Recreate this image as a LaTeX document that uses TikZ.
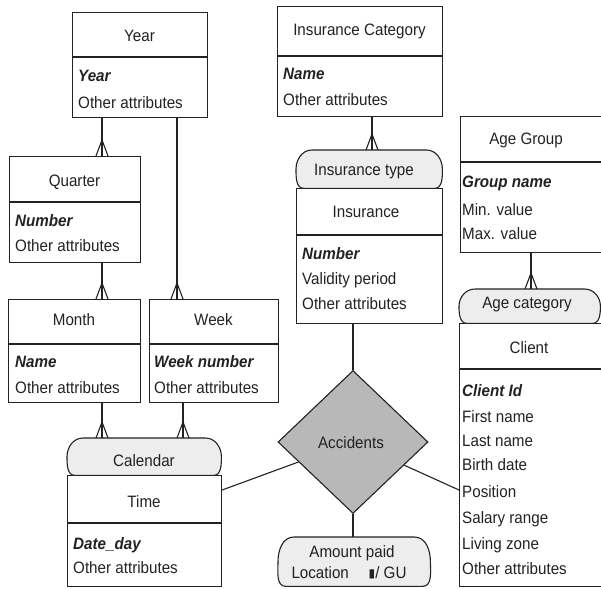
\documentclass[tikz,border=0pt]{standalone}
\usepackage{fontspec}
\setmainfont{Liberation Sans}[FakeStretch=0.92]
\usetikzlibrary{shapes.geometric}
\definecolor{ink}{HTML}{222222}
\definecolor{pillfill}{HTML}{EDEDED}
\definecolor{accfill}{HTML}{B8B8B8}
\newcommand\crowat[1]{\draw[conn] ([xshift=-6pt]#1) -- ([yshift=16pt]#1) -- ([xshift=6pt]#1);}
\newcommand\pillpath[1]{%
  \draw[pillline] ([xshift=16pt]#1.north west) -- ([xshift=-16pt]#1.north east)
    to[out=0,in=90] (#1.east) to[out=-90,in=0] ([xshift=-8pt]#1.south east)
    -- ([xshift=8pt]#1.south west) to[out=180,in=-90] (#1.west)
    to[out=90,in=180] ([xshift=16pt]#1.north west) -- cycle;}
\begin{document}
\begin{tikzpicture}[x=1pt,y=-1pt,
  every node/.style={text=ink, font=\fontsize{16.5}{19}\selectfont},
  ebox/.style={draw=ink, line width=1.1pt, anchor=north west, inner sep=0pt, rectangle},
  pillbox/.style={draw=none, anchor=north west, inner sep=0pt, rectangle},
  pillline/.style={draw=ink, line width=1.1pt, fill=pillfill},
  conn/.style={draw=ink, line width=1.1pt},
  ttl/.style={anchor=base, inner sep=0pt},
  att/.style={anchor=base west, inner sep=0pt},
  key/.style={anchor=base west, inner sep=0pt, font=\fontsize{16.5}{19}\selectfont\bfseries\itshape},
]
\useasboundingbox (0,0) rectangle (601,588);

% ---------- entity boxes ----------
\node[ebox, minimum width=135pt, minimum height=105pt] (year) at (72,12) {};
\node[ebox, minimum width=131pt, minimum height=106pt] (quarter) at (9,156) {};
\node[ebox, minimum width=132pt, minimum height=103pt] (month) at (8,299) {};
\node[ebox, minimum width=129pt, minimum height=103pt] (week) at (149,299) {};
\node[ebox, minimum width=154pt, minimum height=111pt] (time) at (67,475) {};
\node[ebox, minimum width=165pt, minimum height=110pt] (icat) at (277,6) {};
\node[ebox, minimum width=146pt, minimum height=135pt] (ins) at (296,188) {};
\node[ebox, minimum width=150pt, minimum height=136pt] (agegrp) at (460,116) {};
\node[ebox, minimum width=150pt, minimum height=263pt] (client) at (459,323) {};

% dividers
\draw[conn] ([yshift=-45pt]year.north west) -- ([yshift=-45pt]year.north east);
\draw[conn] ([yshift=-46pt]quarter.north west) -- ([yshift=-46pt]quarter.north east);
\draw[conn] ([yshift=-45pt]month.north west) -- ([yshift=-45pt]month.north east);
\draw[conn] ([yshift=-45pt]week.north west) -- ([yshift=-45pt]week.north east);
\draw[conn] ([yshift=-48pt]time.north west) -- ([yshift=-48pt]time.north east);
\draw[conn] ([yshift=-50pt]icat.north west) -- ([yshift=-50pt]icat.north east);
\draw[conn] ([yshift=-47pt]ins.north west) -- ([yshift=-47pt]ins.north east);
\draw[conn] ([yshift=-46pt]agegrp.north west) -- ([yshift=-46pt]agegrp.north east);
\draw[conn] ([yshift=-46pt]client.north west) -- ([yshift=-46pt]client.north east);

% ---------- connector guide coordinates ----------
\coordinate (cA) at (102,0);
\coordinate (cB) at (177,0);
\coordinate (cC) at (183,0);
\coordinate (cD) at (372,0);
\coordinate (cE) at (531,0);

% ---------- pill boxes ----------
\node[pillbox, minimum width=154pt, minimum height=37pt] (calP) at (67,438) {};
\node[pillbox, minimum width=146pt, minimum height=38pt] (itypeP) at (296,150) {};
\node[pillbox, minimum width=141pt, minimum height=34pt] (acatP) at (459,289) {};
\node[pillbox, minimum width=152pt, minimum height=49pt] (amtP) at (278,537) {};
\pillpath{calP}
\pillpath{itypeP}
\pillpath{acatP}
\pillpath{amtP}

% ---------- relationship diamond ----------
\node[diamond, draw=ink, line width=1.1pt, fill=accfill, inner sep=0pt,
      minimum width=150pt, minimum height=143pt] (acc) at (353,442) {};

% ---------- connectors ----------
\coordinate (qTop) at (quarter.north -| cA);
\coordinate (mTop) at (month.north -| cA);
\coordinate (wTop) at (week.north -| cB);
\coordinate (calA) at (calP.north -| cA);
\coordinate (calC) at (calP.north -| cC);
\coordinate (itTop) at (itypeP.north -| cD);
\coordinate (acTop) at (acatP.north -| cE);

\draw[conn] (year.south -| cA) -- (qTop);   \crowat{qTop}
\draw[conn] (quarter.south -| cA) -- (mTop); \crowat{mTop}
\draw[conn] (year.south -| cB) -- (wTop);   \crowat{wTop}
\draw[conn] (month.south -| cA) -- (calA);  \crowat{calA}
\draw[conn] (week.south -| cC) -- (calC);   \crowat{calC}
\draw[conn] (icat.south -| cD) -- (itTop);  \crowat{itTop}
\draw[conn] (agegrp.south -| cE) -- (acTop); \crowat{acTop}

\draw[conn] (ins.south -| acc.north) -- (acc.north);
\draw[conn] (acc.south) -- (amtP.north -| acc.south);
\draw[conn] ([yshift=-15pt]time.north east) -- (acc);
\draw[conn] ([yshift=-167pt]client.north west) -- (acc);

% ---------- titles ----------
\node[ttl] (yearT) at (139.5,42) {Year};
\node[ttl] (quarterT) at (74.5,186) {Quarter};
\node[ttl] (monthT) at (74,325) {Month};
\node[ttl] (weekT) at (213.5,325) {Week};
\node[ttl] (timeT) at (144,507) {Time};
\node[ttl] (icatT) at (359.5,36) {Insurance Category};
\node[ttl] (insT) at (366,217) {Insurance};
\node[ttl] (agegrpT) at (526,145) {Age Group};
\node[ttl] (clientT) at (529,353) {Client};
\node[ttl] (calT) at (144,466) {Calendar};
\node[ttl] (itypeT) at (364,175) {Insurance type};
\node[ttl] (acatT) at (527,308) {Age category};
\node[ttl] (accT) at (351,448) {Accidents};
\node[ttl] (amtT1) at (352,557) {Amount paid};
\node[ttl] (amtT2) at (349,578) {Location\hspace{1.2em}\raisebox{1pt}{\fontspec{DejaVu Sans}\fontsize{12}{12}\selectfont ▮}/ GU};

% ---------- attributes ----------
\node[key] (yearA1) at (78,82) {Year};
\node[att] (yearA2) at (78,109) {Other attributes};
\node[key] (quarterA1) at (15,226) {Number};
\node[att] (quarterA2) at (15,251) {Other attributes};
\node[key] (monthA1) at (15,367) {Name};
\node[att] (monthA2) at (15,393) {Other attributes};
\node[key] (weekA1) at (154,367) {Week number};
\node[att] (weekA2) at (154,393) {Other attributes};
\node[key] (timeA1) at (73,549) {Date\_day};
\node[att] (timeA2) at (73,573) {Other attributes};
\node[key] (icatA1) at (283,80) {Name};
\node[att] (icatA2) at (283,106) {Other attributes};
\node[key] (insA1) at (302,259) {Number};
\node[att] (insA2) at (302,284) {Validity period};
\node[att] (insA3) at (302,309) {Other attributes};
\node[key] (agA1) at (462,187) {Group name};
\node[att] (agA2) at (462,215) {Min. value};
\node[att] (agA3) at (462,239) {Max. value};
\node[key] (clA1) at (462,396) {Client Id};
\node[att] (clA2) at (462,422) {First name};
\node[att] (clA3) at (462,446) {Last name};
\node[att] (clA4) at (462,470) {Birth date};
\node[att] (clA5) at (462,497) {Position};
\node[att] (clA6) at (462,523) {Salary range};
\node[att] (clA7) at (462,549) {Living zone};
\node[att] (clA8) at (462,574) {Other attributes};
\end{tikzpicture}
\end{document}
